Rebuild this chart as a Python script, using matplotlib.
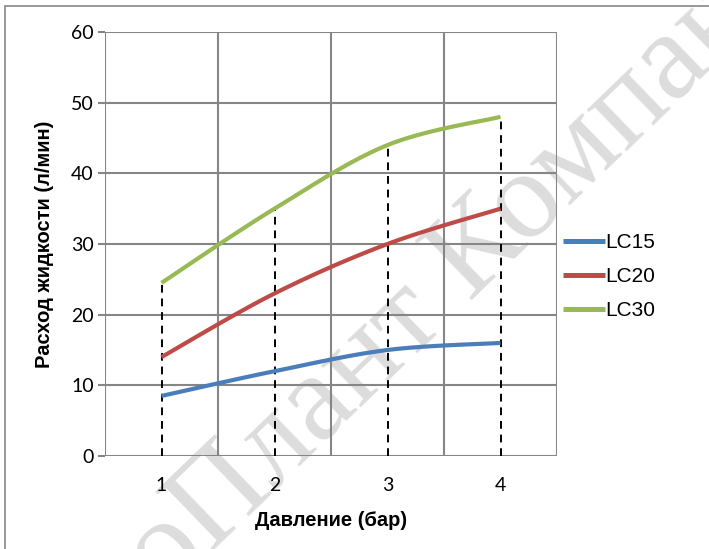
import numpy as np
import matplotlib
matplotlib.use("Agg")
import matplotlib.pyplot as plt
from matplotlib.patches import Rectangle

pressure = [1, 2, 3, 4]
series_names = ["LC15", "LC20", "LC30"]
lc15 = [8.5, 12, 15, 16]
lc20 = [14, 23, 30, 35]
lc30 = [24.5, 35, 44, 48]
colors = ["#4a7ebb", "#be4b48", "#98b954"]
yticks = [0, 10, 20, 30, 40, 50, 60]


def smooth(xs, ys, n=40):
    xs = np.asarray(xs, float)
    ys = np.asarray(ys, float)
    P = np.column_stack([xs, ys])
    Pext = np.vstack([P[0], P, P[-1]])
    out = []
    for i in range(len(P) - 1):
        p0, p1, p2, p3 = Pext[i], Pext[i + 1], Pext[i + 2], Pext[i + 3]
        c1 = p1 + (p2 - p0) / 6.0
        c2 = p2 - (p3 - p1) / 6.0
        t = np.linspace(0, 1, n)[:, None]
        seg = ((1 - t) ** 3) * p1 + 3 * ((1 - t) ** 2) * t * c1 + 3 * (1 - t) * t ** 2 * c2 + t ** 3 * p2
        out.append(seg if i == 0 else seg[1:])
    out = np.vstack(out)
    return out[:, 0], out[:, 1]


W, H = 709, 549
fig = plt.figure(figsize=(W / 100, H / 100), dpi=100)
fig.patch.set_facecolor("white")

# outer frame
fig.patches.append(Rectangle((5 / W, -0.01), 1.02, 1 - 6 / H + 0.01, transform=fig.transFigure,
                             fill=False, edgecolor="#868686", linewidth=1.2, zorder=-2))

# watermark (behind the chart)
fig.text(397 / W, 1 - 331 / H, "ЭргоПлант Компани", rotation=44, rotation_mode="anchor",
         ha="center", va="center", fontsize=90, family="Liberation Serif",
         color="#d4d4d4", alpha=0.8, zorder=-1)

ax = fig.add_axes([105 / W, 93 / H, 452 / W, 424 / H])
ax.patch.set_alpha(0)
ax.set_xlim(0.5, 4.5)
ax.set_ylim(0, 60)

grid_c = "#868686"
for xv in [0.5, 1.5, 2.5, 3.5, 4.5]:
    ax.axvline(xv, color=grid_c, lw=1.5, zorder=1)
for yv in yticks:
    ax.axhline(yv, color=grid_c, lw=1.5, zorder=1)
for s in ax.spines.values():
    s.set_visible(False)

ax.set_yticks(yticks)
ax.set_yticklabels([str(v) for v in yticks], fontsize=14, family="Lato")
ax.tick_params(axis="y", length=5, width=1.5, color=grid_c, pad=3)
ax.set_xticks(pressure)
ax.set_xticklabels([str(v) for v in pressure], fontsize=14, family="Lato")
ax.tick_params(axis="x", length=0, pad=15)

# drop lines
tops = [max(a, b, c) for a, b, c in zip(lc15, lc20, lc30)]
ax.vlines(pressure, 0, tops, colors="black", linestyles=(0, (4, 3)), lw=1.4, zorder=2)

lines = []
for name, vals, col in zip(series_names, [lc15, lc20, lc30], colors):
    sx, sy = smooth(pressure, vals)
    ln, = ax.plot(sx, sy, color=col, lw=3.0, solid_capstyle="butt", label=name, zorder=3)
    lines.append(ln)

ax.set_xlabel("Давление (бар)", fontsize=14.5, fontweight="bold", family="Liberation Sans", labelpad=12)
ax.set_ylabel("Расход жидкости (л/мин)", fontsize=14.5, fontweight="bold", family="Liberation Sans", labelpad=12)

leg = fig.legend(handles=lines, labels=series_names, loc="center left",
                 bbox_to_anchor=(563 / W, 1 - 277 / H), frameon=False,
                 prop={"family": "Liberation Sans", "size": 15},
                 handlelength=2.0, handletextpad=0.05, labelspacing=0.72, borderpad=0,
                 borderaxespad=0)
for lh in leg.get_lines():
    lh.set_linewidth(3.6)

fig.savefig("out.png", dpi=100, facecolor="white")
